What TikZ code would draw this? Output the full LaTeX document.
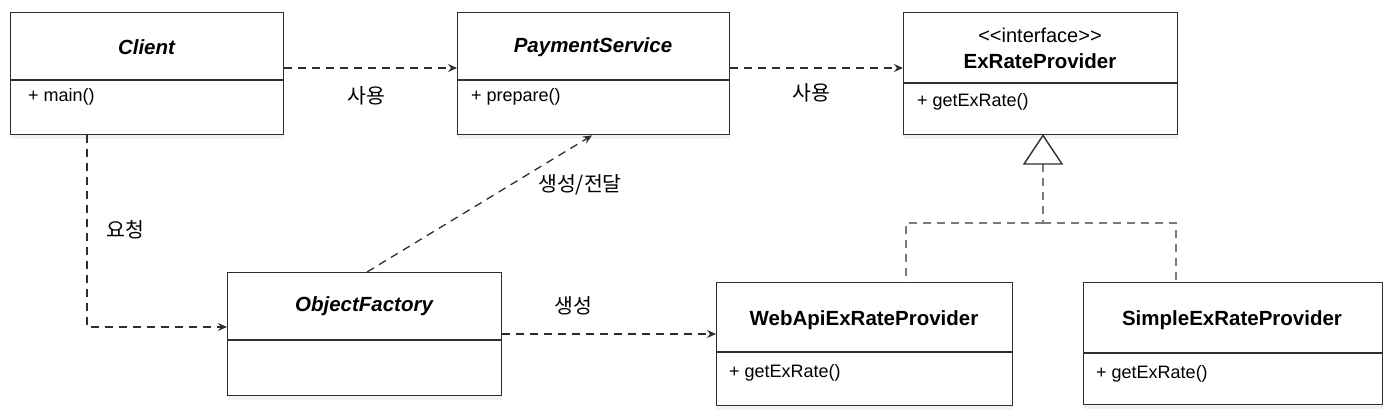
\documentclass[tikz,border=0pt]{standalone}
\usepackage{fontspec}
\setmainfont{Liberation Sans}
\newfontfamily\kr{Noto Sans CJK KR}
\usetikzlibrary{arrows.meta,calc,shadows}
\definecolor{ln}{HTML}{2E2E2E}
\definecolor{rl}{HTML}{7A7A7A}
\tikzset{
  classbox/.style={draw=ln, line width=1.4pt, fill=white, inner sep=0pt, anchor=north west,
    drop shadow={shadow xshift=0pt, shadow yshift=-4pt, opacity=0.10}},
  divider/.style={draw=ln, line width=1.4pt},
  ttl/.style={font=\fontsize{20.5}{24}\selectfont\bfseries, inner sep=0pt, text=black},
  ittl/.style={font=\fontsize{20.5}{24}\selectfont\bfseries\itshape, inner sep=0pt, text=black},
  stereo/.style={font=\fontsize{20}{24}\selectfont, inner sep=0pt, text=black},
  mem/.style={font=\fontsize{18}{22}\selectfont, inner sep=0pt, anchor=west, text=black},
  lbl/.style={font=\kr\fontsize{20.5}{24}\selectfont, inner sep=0pt, text=black},
  dep/.style={draw=ln, line width=1.3pt, dash pattern=on 8pt off 6pt,
    -{Stealth[length=9pt,width=8pt,inset=3pt]}},
  realz/.style={draw=rl, line width=1.3pt, dash pattern=on 8pt off 6pt},
  tri/.style={draw=ln, line width=1.4pt, fill=white}
}
\begin{document}
\begin{tikzpicture}[x=1pt,y=-1pt]
\useasboundingbox (0,0) rectangle (1390,416);
% Client
\node[classbox, minimum width=273pt, minimum height=122pt] (client) at (10,12) {};
\draw[divider] (client.west |- 0,80) -- (client.east |- 0,80);
\node[ittl] (clientT) at (146.5,47) {Client};
\node[mem] (clientM) at (28,97) {+ main()};
% PaymentService
\node[classbox, minimum width=272pt, minimum height=122pt] (pay) at (457,12) {};
\draw[divider] (pay.west |- 0,80) -- (pay.east |- 0,80);
\node[ittl] (payT) at (593,47) {PaymentService};
\node[mem] (payM) at (471,97) {+ prepare()};
% ExRateProvider
\node[classbox, minimum width=274pt, minimum height=122pt] (ex) at (903,12) {};
\draw[divider] (ex.west |- 0,83) -- (ex.east |- 0,83);
\node[stereo] (exS) at (1040,35) {{<}{<}interface{>}{>}};
\node[ttl] (exT) at (1040,61) {ExRateProvider};
\node[mem] (exM) at (917,102) {+ getExRate()};
% ObjectFactory
\node[classbox, minimum width=274pt, minimum height=123pt] (of) at (227,272) {};
\draw[divider] (of.west |- 0,340) -- (of.east |- 0,340);
\node[ittl] (ofT) at (364,306) {ObjectFactory};
% WebApiExRateProvider
\node[classbox, minimum width=296pt, minimum height=123pt] (web) at (716,282) {};
\draw[divider] (web.west |- 0,352) -- (web.east |- 0,352);
\node[ttl] (webT) at (864,320) {WebApiExRateProvider};
\node[mem] (webM) at (729,373) {+ getExRate()};
% SimpleExRateProvider
\node[classbox, minimum width=299pt, minimum height=122pt] (simple) at (1083,282) {};
\draw[divider] (simple.west |- 0,353) -- (simple.east |- 0,353);
\node[ttl] (simpleT) at (1232,320) {SimpleExRateProvider};
\node[mem] (simpleM) at (1096,374) {+ getExRate()};

% dependencies
\draw[dep] (client.east |- 0,68) -- (pay.west |- 0,68);
\draw[dep] (pay.east |- 0,68) -- (ex.west |- 0,68);
\draw[dep] (client.south -| 87,0) |- (of.west |- 0,327);
\draw[dep] (of.north -| 367,0) -- (pay.south -| 592,0);
\draw[dep] (of.east |- 0,334) -- (web.west |- 0,334);

% labels
\node[lbl] (l1) at (366,96) {사용};
\node[lbl] (l2) at (811,93) {사용};
\node[lbl] (l3) at (125,230) {요청};
\node[lbl] (l4) at (580,185) {생성/전달};
\node[lbl] (l5) at (573,306) {생성};

% realization
\coordinate (apex) at (ex.south -| 1043,0);
\coordinate (tribase) at (1043,164);
\coordinate (junc) at (1043,223);
\draw[realz] (tribase) -- (junc);
\draw[realz] (junc) -| (web.north -| 906,0);
\draw[realz] (junc) -| (simple.north -| 1176,0);
\draw[tri] (apex) -- (1062,164) -- (1024,164) -- cycle;
\end{tikzpicture}
\end{document}
